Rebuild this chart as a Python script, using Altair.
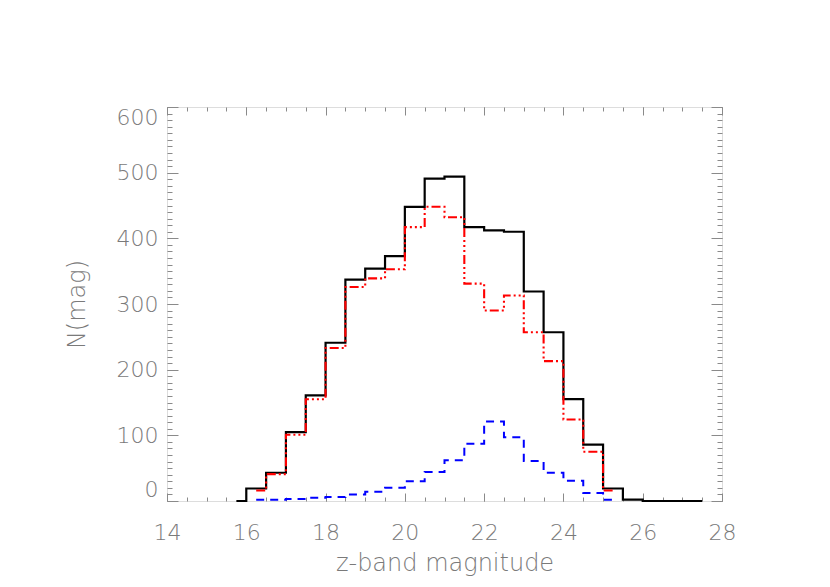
import altair as alt
import pandas as pd

# Bin lower edges (z-band magnitude, 0.5 mag bins)
mag_lo = [16.0, 16.5, 17.0, 17.5, 18.0, 18.5, 19.0, 19.5, 20.0, 20.5,
          21.0, 21.5, 22.0, 22.5, 23.0, 23.5, 24.0, 24.5, 25.0, 25.5]
# Counts per bin
n_total = [19, 43, 105, 161, 241, 337, 354, 373, 448, 491,
           494, 417, 412, 410, 319, 257, 155, 86, 19, 2]
n_red = [16, 41, 101, 155, 233, 326, 339, 353, 417, 448,
         432, 331, 290, 313, 257, 213, 124, 75, 16]
n_blue = [2, 2, 3, 5, 6, 10, 14, 20, 30, 44,
          62, 87, 121, 97, 61, 43, 31, 12, 2]

# Extent of each drawn histogram (IDL psym=10 half-bins at the ends)
total_start, total_end, total_tail = 15.75, 27.5, 26.0
sub_start, sub_end = 16.25, 25.25

series_names = ["total", "red", "blue"]
series_colors = ["#000000", "#ff0000", "#0000ff"]
series_dash = [[1, 0], [9, 3, 2, 3, 2, 3, 2, 3], [8, 6]]
series_width = [2.2, 2, 2.5]

x_major = [14, 16, 18, 20, 22, 24, 26, 28]
y_major = [0, 100, 200, 300, 400, 500, 600]
x_minor = [14 + 0.5 * i for i in range(29)]
y_minor = [10 * i for i in range(61)]

rows = [{"mag": total_start, "n": 0, "series": "total"}]
for lo, n in zip(mag_lo, n_total):
    rows.append({"mag": lo, "n": n, "series": "total"})
rows.append({"mag": total_tail, "n": 0, "series": "total"})
rows.append({"mag": total_end, "n": 0, "series": "total"})

for name, vals in (("red", n_red), ("blue", n_blue)):
    for i, (lo, n) in enumerate(zip(mag_lo, vals)):
        rows.append({"mag": sub_start if i == 0 else lo, "n": n, "series": name})
    rows.append({"mag": sub_end, "n": vals[-1], "series": name})

df = pd.DataFrame(rows)

W, H = 555, 394
xs = alt.Scale(domain=[14, 28], nice=False, zero=False)
ys = alt.Scale(domain=[0, 600], nice=False, zero=False)

GRAY = "#8a8a8a"
TXT = "#7a7a7a"
FONT = "DejaVu Sans"


def tick_axis(orient, values, size, offset):
    return alt.Axis(orient=orient, values=values, tickSize=size, offset=offset,
                    labels=False, domain=False, grid=False, title=None,
                    tickColor=GRAY, tickWidth=1)


main = alt.Chart(df).mark_line(interpolate="step-after").encode(
    x=alt.X("mag:Q", scale=xs,
            axis=alt.Axis(orient="bottom", values=x_major, ticks=False, tickSize=0,
                          domain=False, grid=False, title="z-band magnitude",
                          labelFont=FONT, labelFontSize=22, labelColor=TXT,
                          labelFontWeight=200, labelPadding=21,
                          labelFlush=False, labelOverlap=False,
                          titleFont=FONT, titleFontSize=24, titleColor=TXT,
                          titleFontWeight=200, titleBaseline="alphabetic",
                          titleY=69, titleX=W / 2, titleAlign="center")),
    y=alt.Y("n:Q", scale=ys,
            axis=alt.Axis(orient="left", values=y_major, ticks=False, tickSize=0,
                          domain=False, grid=False, title="N(mag)",
                          labelFont=FONT, labelFontSize=22, labelColor=TXT,
                          labelFontWeight=200, labelPadding=9,
                          labelFlush=True, labelOverlap=False,
                          titleFont=FONT, titleFontSize=24, titleColor=TXT,
                          titleFontWeight=200, titleBaseline="alphabetic",
                          titleX=-83, titleY=H / 2, titleAlign="center",
                          titleAngle=270)),
    color=alt.Color("series:N", scale=alt.Scale(domain=series_names, range=series_colors), legend=None),
    strokeDash=alt.StrokeDash("series:N", scale=alt.Scale(domain=series_names, range=series_dash), legend=None),
    strokeWidth=alt.StrokeWidth("series:N", scale=alt.Scale(domain=series_names, range=series_width), legend=None),
)

def ghost(xaxis, yaxis):
    return alt.Chart(df).mark_line(strokeOpacity=0).encode(
        x=alt.X("mag:Q", scale=xs, axis=xaxis),
        y=alt.Y("n:Q", scale=ys, axis=yaxis),
        detail="series:N",
    )

# inward ticks: bottom edge (top-orient axis moved down), left edge (right-orient moved left)
g1 = ghost(tick_axis("top", x_major, 8, -H), tick_axis("right", y_major, 11, -W))
g2 = ghost(tick_axis("top", x_minor, 4, -H), tick_axis("right", y_minor, 5, -W))
# inward ticks: top edge and right edge
g3 = ghost(tick_axis("bottom", x_major, 8, -H), tick_axis("left", y_major, 11, -W))
g4 = ghost(tick_axis("bottom", x_minor, 4, -H), tick_axis("left", y_minor, 5, -W))

chart = alt.layer(main, g1, g2, g3, g4).resolve_axis(
    x="independent", y="independent"
).properties(
    width=W, height=H,
    padding={"left": 159, "top": 99, "right": 90, "bottom": 78},
    autosize=alt.AutoSizeParams(type="none"),
).configure_view(
    stroke=GRAY, strokeWidth=1
).configure(background="white")

chart.save("out.html", embed_options={"renderer": "svg", "actions": False})
